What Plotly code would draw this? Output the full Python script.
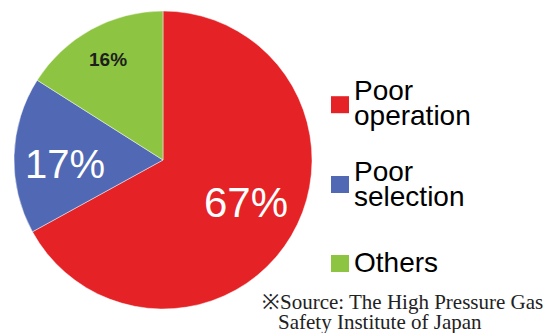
import math
import plotly.graph_objects as go

categories = ["Poor operation", "Poor selection", "Others"]
legend_lines = [["Poor", "operation"], ["Poor", "selection"], ["Others"]]
values = [67, 17, 16]
colors = ["#E52226", "#5169B4", "#8DC441"]
label_colors = ["#FFFFFF", "#FFFFFF", "#1E1E1E"]
label_sizes = [42, 40, 19]
label_bold = [False, False, True]
label_radius_frac = [0.63, 0.66, 0.77]
label_nudge = [(2, -5), (0, 7), (0, 0)]
source_lines = ["※Source: The High Pressure Gas", "Safety Institute of Japan"]

# page is offset by the default 8px body margin
OFF = 8
W, H = 559 - OFF, 333 - OFF

def px(x):
    return (x - OFF) / W

def py(y):
    return 1 - (y - OFF) / H

# pie placement (page pixels)
pie_left, pie_right, pie_top, pie_bottom = 14, 312, 10, 310
cx = (pie_left + pie_right) / 2
cy = (pie_top + pie_bottom) / 2
R = min(pie_right - pie_left, pie_bottom - pie_top) / 2

fig = go.Figure()
fig.add_trace(go.Pie(
    labels=categories,
    values=values,
    sort=False,
    direction="clockwise",
    rotation=0,
    marker=dict(colors=colors, line=dict(color="rgba(255,255,255,0.45)", width=1)),
    textinfo="none",
    hoverinfo="label+percent",
    showlegend=False,
    domain=dict(x=[px(pie_left), px(pie_right)], y=[py(pie_bottom), py(pie_top)]),
))

annotations = []
shapes = []

# percentage labels placed along each slice's bisector
total = sum(values)
cum = 0
for v, col, size, bold, frac, (nx, ny) in zip(values, label_colors, label_sizes, label_bold,
                                               label_radius_frac, label_nudge):
    mid = (cum + v / 2) / total * 2 * math.pi
    cum += v
    lx = cx + frac * R * math.sin(mid) + nx
    ly = cy - frac * R * math.cos(mid) + ny
    txt = f"{round(v / total * 100)}%"
    if bold:
        txt = f"<b>{txt}</b>"
    annotations.append(dict(text=txt, xref="paper", yref="paper", x=px(lx), y=py(ly),
                            xanchor="center", yanchor="middle", showarrow=False,
                            font=dict(family="Liberation Sans, Arial, sans-serif", size=size, color=col)))

# legend drawn as annotations + squares
LF = 28
legend_font = dict(family="Liberation Sans, Arial, sans-serif", size=LF, color="#000000")
item_baselines = [[100.7, 125.7], [181.5, 206.5], [272.0]]
marker_centers = [104.7, 184.5, 263.5]
for lines, bases, mc, col in zip(legend_lines, item_baselines, marker_centers, colors):
    shapes.append(dict(type="rect", xref="paper", yref="paper",
                       x0=px(331), x1=px(349), y0=py(mc + 8.5), y1=py(mc - 8.5),
                       fillcolor=col, line=dict(width=0)))
    for txt, b in zip(lines, bases):
        annotations.append(dict(text=txt, xref="paper", yref="paper",
                                x=px(352), y=py(b - 0.35 * LF),
                                xanchor="left", yanchor="middle",
                                showarrow=False, font=legend_font))

SF = 21
src_font = dict(family="Liberation Serif, Times New Roman, serif", size=SF, color="#222222")
annotations.append(dict(text=source_lines[0], xref="paper", yref="paper",
                        x=px(260), y=py(309 - 0.33 * SF), xanchor="left", yanchor="middle",
                        showarrow=False, font=src_font))
annotations.append(dict(text=source_lines[1], xref="paper", yref="paper",
                        x=px(276), y=py(329 - 0.33 * SF), xanchor="left", yanchor="middle",
                        showarrow=False, font=src_font))

fig.update_layout(
    width=W, height=H,
    margin=dict(l=0, r=0, t=0, b=0),
    paper_bgcolor="#FFFFFF",
    plot_bgcolor="#FFFFFF",
    annotations=annotations,
    shapes=shapes,
)

fig.write_html("out.html")
